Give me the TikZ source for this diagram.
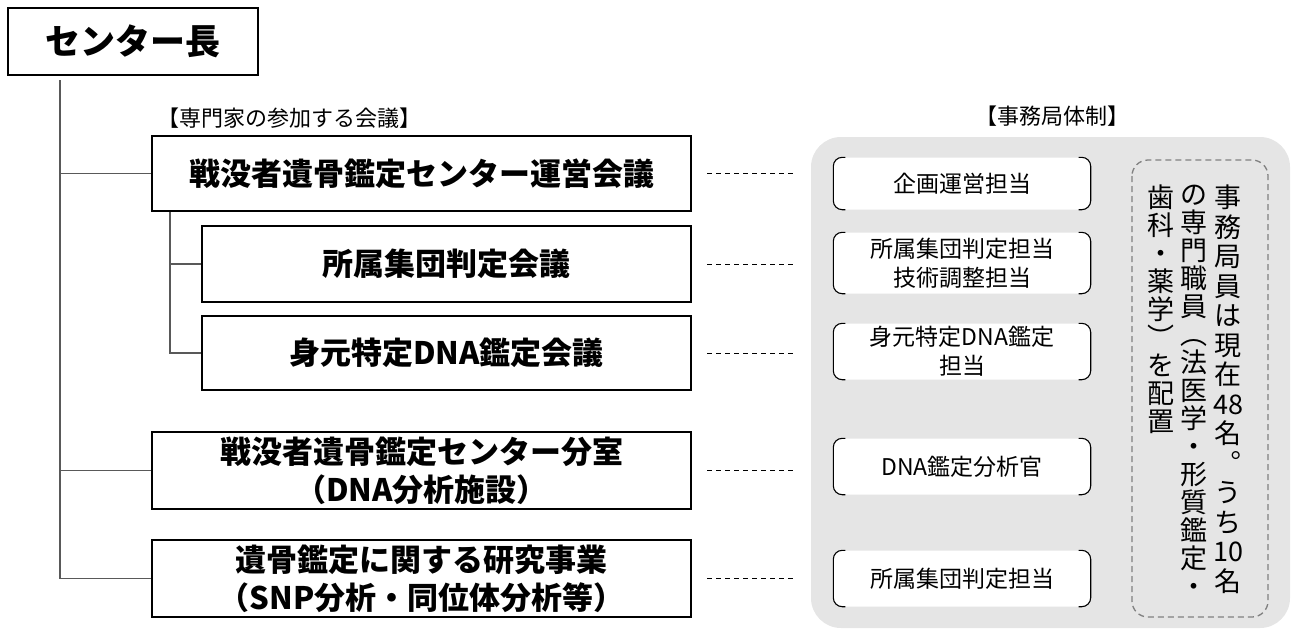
\documentclass[tikz,border=0pt]{standalone}
\usepackage{fontspec}
\setmainfont{Noto Sans CJK JP}
\tikzset{
  kaigi/.style={draw, line width=2.2pt, align=center, inner sep=0pt,
    font=\bfseries\fontsize{31}{38}\selectfont},
  tanto/.style={fill=white, rounded corners=9pt, align=center, inner sep=0pt,
    minimum width=257pt, minimum height=56pt, font=\fontsize{23}{29}\selectfont},
  kakko/.style={line width=1.1pt, rounded corners=9pt},
  link/.style={line width=1.3pt, black!65},
  tensen/.style={dash pattern=on 5pt off 4pt, line width=1pt, shorten <=15pt, shorten >=37pt},
  midasi/.style={inner sep=0pt, font=\fontsize{22}{26}\selectfont},
  tate/.style={align=center, inner sep=0pt, anchor=north, font=\fontsize{27}{28}\selectfont}
}
\begin{document}
\begin{tikzpicture}[x=1pt, y=-1pt]
   \useasboundingbox (0,0) rectangle (1297,635);
   \fill[black!10, rounded corners=30pt] (811,137) rectangle (1290,628);
   \node[draw, line width=2pt, minimum width=250pt, minimum height=67pt,
     font=\bfseries\fontsize{35}{40}\selectfont] (C) at (133,41.5) {センター長};
   \node[midasi, anchor=west] (L1) at (157,118) {【専門家の参加する会議】};
   \node[midasi] (L2) at (1052,116) {【事務局体制】};
   \node[kaigi, minimum width=539pt, minimum height=75pt] (K1) at (421.5,173.5) {戦没者遺骨鑑定センター運営会議};
   \node[kaigi, minimum width=489pt, minimum height=76pt] (K2) at (446.5,264) {所属集団判定会議};
   \node[kaigi, minimum width=489pt, minimum height=74pt] (K3) at (446.5,353) {身元特定DNA鑑定会議};
   \node[kaigi, minimum width=539pt, minimum height=77pt] (K4) at (421.5,470.5) {戦没者遺骨鑑定センター分室\\（DNA分析施設）};
   \node[kaigi, minimum width=539pt, minimum height=77pt] (K5) at (421.5,578.5) {遺骨鑑定に関する研究事業\\（SNP分析・同位体分析等）};
   \node[tanto, minimum height=52pt] (S1) at (962,183.5) {企画運営担当};
   \node[tanto, minimum height=61pt] (S2) at (962,263) {所属集団判定担当\\技術調整担当};
   \node[tanto] (S3) at (962,351.5) {身元特定DNA鑑定\\担当};
   \node[tanto] (S4) at (962,466.5) {DNA鑑定分析官};
   \node[tanto] (S5) at (962,578.5) {所属集団判定担当};
   \coordinate (T) at (60,80);
   \coordinate (U) at (170,0);
   \draw[link] (T) |- (K5.west);
   \draw[link] (T |- K1.west) -- (K1.west);
   \draw[link] (T |- K4.west) -- (K4.west);
   \draw[link] (K1.south -| U) |- (K3.west);
   \draw[link] (U |- K2.west) -- (K2.west);
   \foreach \i in {1,...,5} {
     \draw[tensen] (K\i.east) -- (K\i.east -| S\i.west);
     \draw[kakko] ([xshift=12pt]S\i.north west) -- (S\i.north west) -- (S\i.south west) -- ([xshift=12pt]S\i.south west)
                  ([xshift=-12pt]S\i.north east) -- (S\i.north east) -- (S\i.south east) -- ([xshift=-12pt]S\i.south east);
   }
   \draw[gray, line width=1.3pt, dash pattern=on 6pt off 4pt, rounded corners=16pt] (1132,160) rectangle (1268,617);
   \node[tate, font=\fontsize{27}{29.5}\selectfont] (V1) at (1228,185) {事\\務\\局\\員\\は\\現\\在\\48\\名\\︒\\う\\ち\\10\\名};
   \node[tate] (V2) at (1194,185) {の\\専\\門\\職\\員\\︵\\法\\医\\学\\・\\形\\質\\鑑\\定\\・};
   \node[tate] (V3) at (1161,185) {歯\\科\\・\\薬\\学\\︶\\を\\配\\置};
\end{tikzpicture}
\end{document}
